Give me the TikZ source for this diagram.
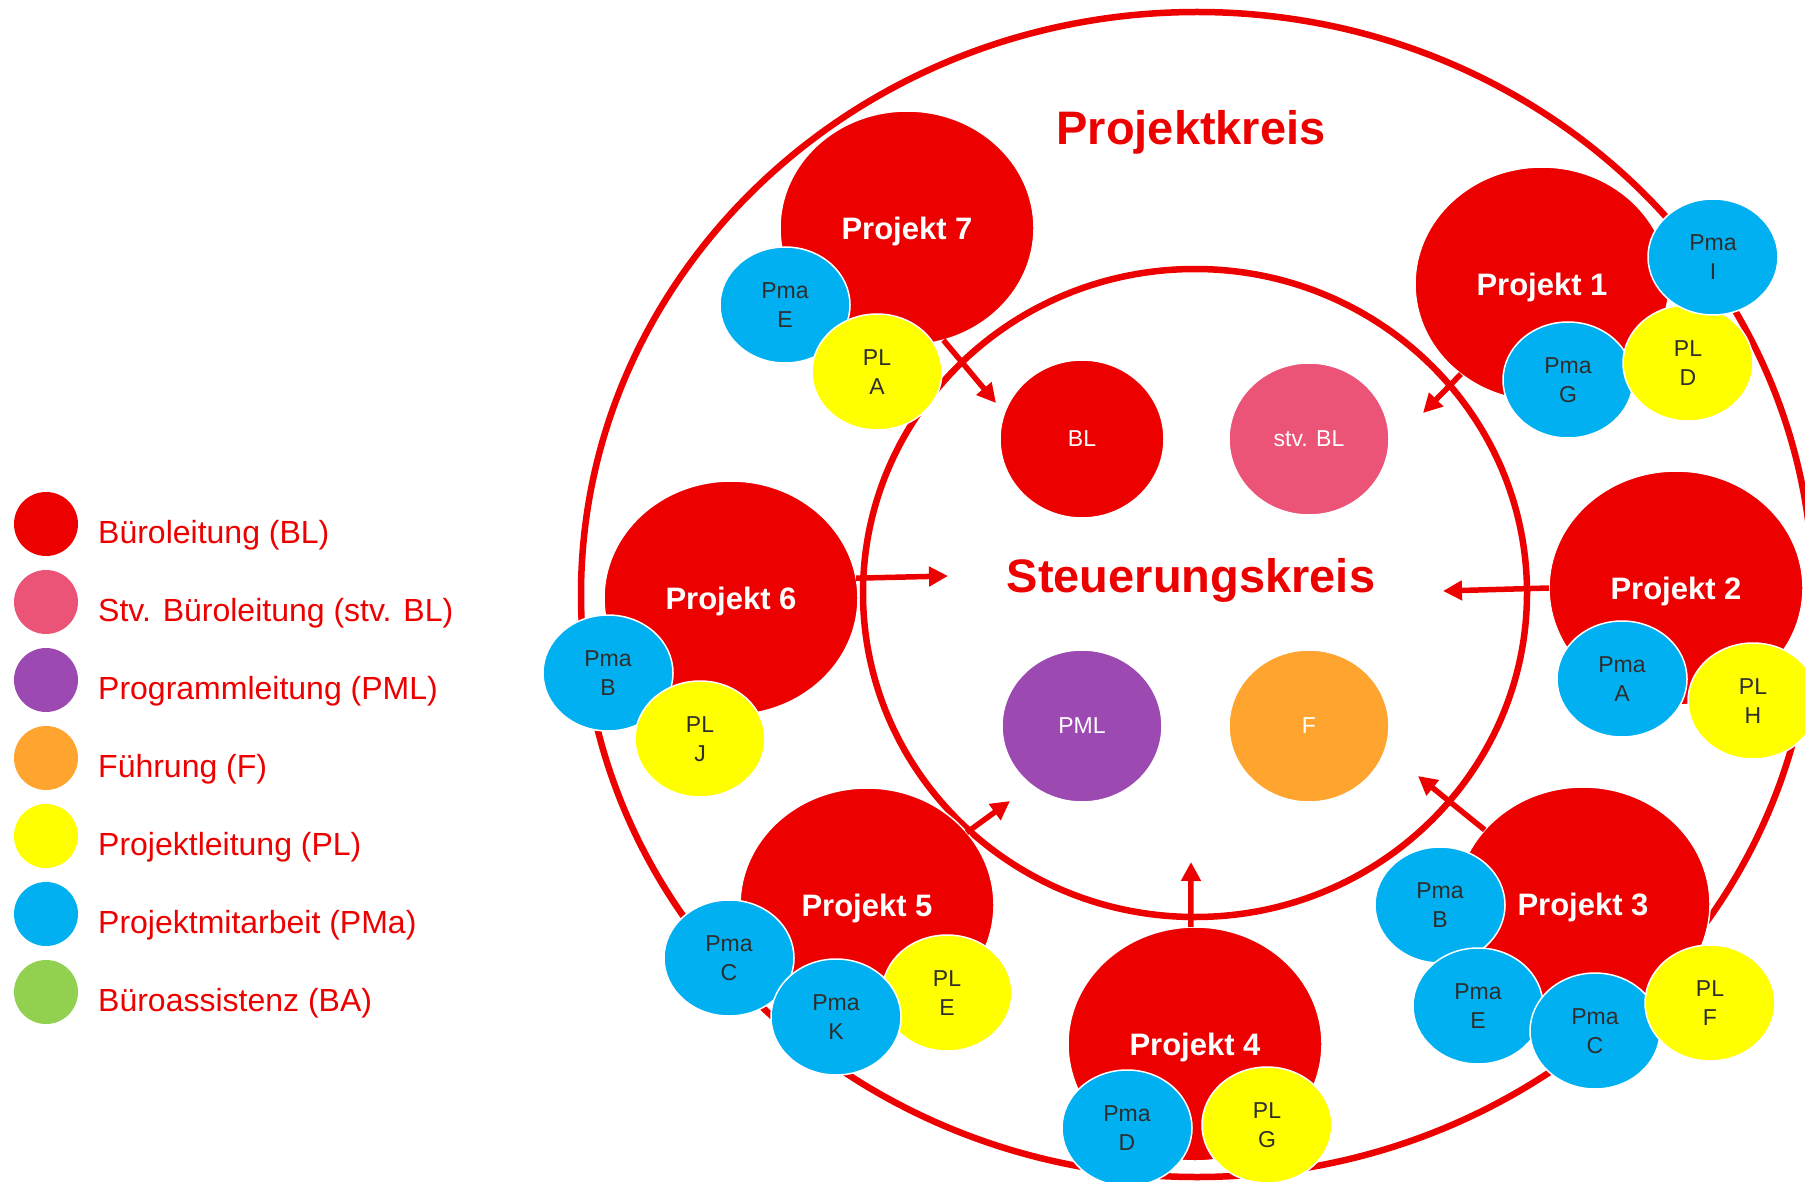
\documentclass[tikz,border=0pt]{standalone}
\usepackage{fontspec}
\setmainfont{Liberation Sans}
\usetikzlibrary{shapes.geometric,arrows.meta}

\definecolor{kred}{HTML}{EC0000}
\definecolor{kpink}{HTML}{EB5377}
\definecolor{kpurple}{HTML}{9C4AB2}
\definecolor{korange}{HTML}{FFA42E}
\definecolor{kyellow}{HTML}{FFFF00}
\definecolor{kblue}{HTML}{00B0F0}
\definecolor{kgreen}{HTML}{92D050}
\definecolor{ktext}{HTML}{2E2E2E}

\tikzset{
  blob/.style={ellipse, inner sep=0pt, outer sep=0pt, draw=white, line width=1.5pt},
  proj/.style={blob, fill=kred, minimum width=254pt, minimum height=234pt,
    text=white, font=\fontsize{31}{31}\selectfont\bfseries, text depth=0pt},
  pma/.style={blob, fill=kblue, minimum width=130pt, minimum height=116pt,
    text=ktext, align=center, font=\fontsize{23}{29}\selectfont},
  pl/.style={pma, fill=kyellow},
  core/.style={blob, minimum width=160pt, minimum height=152pt,
    text=white, font=\fontsize{23}{23}\selectfont},
  ring/.style={draw=kred, line width=6.5pt},
  flow/.style={draw=kred, line width=5.5pt, -{Triangle[length=19pt,width=19pt]}},
  key/.style={circle, inner sep=0pt, minimum size=64pt},
  keytext/.style={anchor=base west, text=kred, inner sep=0pt,
    font=\fontsize{32}{32}\selectfont},
  title/.style={anchor=base, text=kred, inner sep=0pt,
    font=\fontsize{47}{47}\selectfont\bfseries},
}

\begin{document}
\begin{tikzpicture}[x=1pt,y=-1pt]
\useasboundingbox (0,0) rectangle (1805,1182);
\clip (0,0) rectangle (1805,1182);

% legend
\node[key, fill=kred]    (k1) at (46,524) {};
\node[key, fill=kpink]   (k2) at (46,602) {};
\node[key, fill=kpurple] (k3) at (46,680) {};
\node[key, fill=korange] (k4) at (46,758) {};
\node[key, fill=kyellow] (k5) at (46,836) {};
\node[key, fill=kblue]   (k6) at (46,914) {};
\node[key, fill=kgreen]  (k7) at (46,992) {};
\node[keytext] (l1) at (98,543) {Büroleitung (BL)};
\node[keytext] (l2) at (98,621) {Stv. Büroleitung (stv. BL)};
\node[keytext] (l3) at (98,699) {Programmleitung (PML)};
\node[keytext] (l4) at (98,777) {Führung (F)};
\node[keytext] (l5) at (98,855) {Projektleitung (PL)};
\node[keytext] (l6) at (98,933) {Projektmitarbeit (PMa)};
\node[keytext] (l7) at (98,1011) {Büroassistenz (BA)};

% the two circles
\draw[ring] (1197,594.5) ellipse [x radius=616, y radius=582.5];
\draw[ring] (1195,593) ellipse [x radius=332, y radius=324];

% Projekt 7
\node[proj] (p7) at (907,228) {Projekt 7};
\node[pma] (p7e) at (785,305) {Pma\\E};
\node[pl]  (p7a) at (877,372) {PL\\A};

% Projekt 1
\node[proj] (p1) at (1542,284) {Projekt 1};
\node[pma] (p1g) at (1568,380) {Pma\\G};
\node[pl]  (p1d) at (1688,363) {PL\\D};
\node[pma] (p1i) at (1713,257) {Pma\\I};

% Projekt 2
\node[proj] (p2) at (1676,588) {Projekt 2};
\node[pma] (p2a) at (1622,679) {Pma\\A};
\node[pl]  (p2h) at (1753,701) {PL\\H};

% Projekt 3
\node[proj] (p3) at (1583,904) {Projekt 3};
\node[pma] (p3b) at (1440,905) {Pma\\B};
\node[pma] (p3e) at (1478,1006) {Pma\\E};
\node[pma] (p3c) at (1595,1031) {Pma\\C};
\node[pl]  (p3f) at (1710,1003) {PL\\F};

% Projekt 4
\node[proj] (p4) at (1195,1044) {Projekt 4};
\node[pma] (p4d) at (1127,1128) {Pma\\D};
\node[pl]  (p4g) at (1267,1125) {PL\\G};

% Projekt 5
\node[proj] (p5) at (867,905) {Projekt 5};
\node[pma] (p5c) at (729,958) {Pma\\C};
\node[pl]  (p5e) at (947,993) {PL\\E};
\node[pma] (p5k) at (836,1017) {Pma\\K};

% Projekt 6
\node[proj] (p6) at (731,598) {Projekt 6};
\node[pma] (p6b) at (608,673) {Pma\\B};
\node[pl]  (p6j) at (700,739) {PL\\J};

% steering members
\node[core, fill=kred, minimum width=164pt, minimum height=158pt] (bl) at (1082,439) {BL};
\node[core, fill=kpink]   (stv) at (1309,439) {stv. BL};
\node[core, fill=kpurple] (pml) at (1082,726) {PML};
\node[core, fill=korange] (f)   at (1309,726) {F};

% titles
\node[title] (outer) at (1191,145) {Projektkreis};
\node[title] (inner) at (1191,592) {Steuerungskreis};

% arrows into the steering circle
\coordinate (t7) at (996,403);
\coordinate (t1) at (1423,413);
\coordinate (t6) at (948,576);
\coordinate (t2) at (1443,591);
\coordinate (t3) at (1418,776);
\coordinate (t4) at (1191,862);
\coordinate (t5) at (1010,801);
\draw[flow] (p7.-72) -- (t7);
\draw[flow] (p1.-132) -- (t1);
\draw[flow] (p6.9) -- (t6);
\draw[flow] (p2.180) -- (t2);
\draw[flow] (p3.143) -- (t3);
\draw[flow] (p4.92) -- (t4);
\draw[flow] (p5.36) -- (t5);
\end{tikzpicture}
\end{document}
